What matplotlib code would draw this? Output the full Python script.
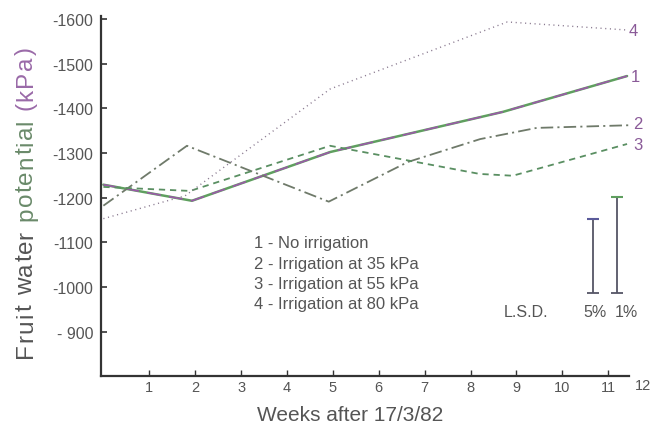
import matplotlib
matplotlib.use('Agg')
import matplotlib.pyplot as plt

# Data (weeks after 17/3/82, fruit water potential magnitude in kPa)
weeks_1 = [0, 1.93, 4.94, 8.71, 11.41]
kpa_1 = [1229, 1193, 1302, 1392, 1472]

weeks_2 = [0, 1.82, 4.91, 6.64, 8.21, 9.44, 11.47]
kpa_2 = [1182, 1316, 1191, 1280, 1331, 1356, 1362]

weeks_3 = [0, 1.89, 4.94, 8.2, 8.92, 11.41]
kpa_3 = [1224, 1215, 1316, 1253, 1249, 1320]

weeks_4 = [0, 1.78, 4.94, 8.8, 11.41]
kpa_4 = [1153, 1204, 1443, 1593, 1575]

legend_lines = ['1 - No irrigation', '2 - Irrigation at 35 kPa',
                '3 - Irrigation at 55 kPa', '4 - Irrigation at 80 kPa']
end_labels = ['1', '2', '3', '4']

# LSD bars (5% and 1%)
lsd_x = [10.67, 11.19]
lsd_low = [987, 987]
lsd_high = [1153, 1202]
lsd_names = ['5%', '1%']

yticks = [900, 1000, 1100, 1200, 1300, 1400, 1500, 1600]
ytick_labels = ['- 900', '-1000', '-1100', '-1200', '-1300', '-1400', '-1500', '-1600']
xticks = list(range(1, 12))

plt.rcParams['font.family'] = ['Liberation Sans', 'DejaVu Sans']
plt.rcParams['lines.scale_dashes'] = False

grey = '#555555'
purple = '#9a5aa8'
green = '#5f9f5f'

fig = plt.figure(figsize=(6.5, 4.27), dpi=100)
ax = fig.add_axes([101 / 650, 50 / 427, 549 / 650, 367 / 427])
ax.set_xlim(-0.052, 11.91)
ax.set_ylim(801, 1622)

# two-tone look of the scan: green under purple
ax.plot(weeks_1, kpa_1, color=green, lw=1.8, solid_capstyle='round')
ax.plot(weeks_1, kpa_1, color=purple, lw=1.2, dashes=(10, 6))
ax.plot(weeks_2, kpa_2, color='#6f7a6a', lw=1.3, dashes=(9, 3, 1.5, 3))
ax.plot(weeks_3, kpa_3, color='#5a8f62', lw=1.3, dashes=(4.5, 3.5))
ax.plot(weeks_4, kpa_4, color='#8a7a90', lw=1.0, dashes=(0.8, 2.6))

end_pos = [(11.49, 1472), (11.54, 1365), (11.54, 1318), (11.45, 1573)]
for lab, (x, y) in zip(end_labels, end_pos):
    ax.text(x, y, lab, fontsize=12, color='#8a5a98', ha='left', va='center')

for i, txt in enumerate(legend_lines):
    ax.text(3.28, 1099 - i * 45.5, txt, fontsize=12, color=grey, ha='left', va='center')

ax.vlines(lsd_x, lsd_low, lsd_high, color='#555566', lw=1.3)
ax.hlines(lsd_low, [x - 0.13 for x in lsd_x], [x + 0.13 for x in lsd_x], color='#555566', lw=1.3)
ax.hlines(lsd_high, [x - 0.13 for x in lsd_x], [x + 0.13 for x in lsd_x],
          color=['#5a5a9a', '#5f9f5f'], lw=1.5)
ax.text(9.21, 945, 'L.S.D.', fontsize=11.5, color=grey, ha='center', va='center')
for x, name in zip([10.71, 11.39], lsd_names):
    ax.text(x, 945, name, fontsize=11.5, color=grey, ha='center', va='center')

ax.spines['top'].set_visible(False)
ax.spines['right'].set_visible(False)
ax.spines['left'].set_bounds(801, 1607)
ax.spines['bottom'].set_bounds(-0.052, 11.45)
for s in ('left', 'bottom'):
    ax.spines[s].set_linewidth(1.6)
    ax.spines[s].set_color('#333333')

ax.set_yticks(yticks)
ax.set_yticklabels(ytick_labels)
ax.set_xticks(xticks)
ax.tick_params(axis='y', direction='in', length=4, width=1.2, colors='#333333',
               labelcolor=grey, labelsize=11.5, pad=5.5)
ax.tick_params(axis='x', direction='in', length=4, width=1.0, colors='#333333',
               labelcolor=grey, labelsize=10.5, pad=3)
ax.text(11.75, 801 - 20, '12', fontsize=10.5, color=grey, ha='center', va='center')

fig.text(350 / 650, 1 - 415.5 / 427, 'Weeks after 17/3/82', fontsize=15, color=grey,
         ha='center', va='center')

# y label drawn letter by letter: the scan stretches it along the axis
fig.canvas.draw()
renderer = fig.canvas.get_renderer()
ylab = [('Fruit water ', grey), ('potential ', '#6a8a6a'), ('(kPa)', '#9a6aa8')]
chars = [(c, col) for txt, col in ylab for c in txt]
fs = 17.5
space_w = 0.28 * fs * 100 / 72

def char_width(c):
    if c == ' ':
        return space_w
    t = fig.text(0, 0, c, fontsize=fs)
    w = t.get_window_extent(renderer).width
    t.remove()
    return w

widths = [char_width(c) for c, _ in chars]
y_start, y_end = 427 - 358, 427 - 47
track = max(0, (y_end - y_start - sum(widths)) / (len(chars) - 1))
ypix = y_start
for (c, col), w in zip(chars, widths):
    if c != ' ':
        fig.text(26 / 650, ypix / 427, c, fontsize=fs, color=col, rotation=90,
                 rotation_mode='anchor', ha='left', va='center')
    ypix += w + track

fig.savefig('out.png', dpi=100)
